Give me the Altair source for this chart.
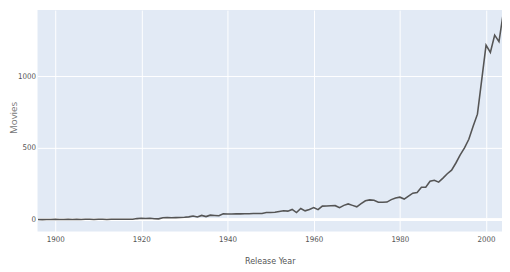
import altair as alt
import pandas as pd

years = list(range(1896, 2005))
movies = [
    2, 1, 2, 2, 3,            # 1896-1900
    2, 2, 3, 2, 3,            # 1901-1905
    2, 3, 3, 2, 3,            # 1906-1910
    3, 2, 3, 3, 4,            # 1911-1915
    3, 4, 4,                  # 1916-1918
    8, 10, 9, 10, 7, 6,       # 1919-1924
    14, 15, 14, 15, 16, 17,   # 1925-1930
    20, 26, 19, 30, 22, 32, 30, 28, 42, 40,   # 1931-1940
    40, 41, 41, 42, 42, 43, 44, 44, 50, 50,   # 1941-1950
    52, 58, 62, 60, 72, 50, 78, 62, 72, 85,   # 1951-1960
    70, 95, 96, 97, 98, 84, 100, 110, 100, 90,  # 1961-1970
    112, 132, 138, 136, 122, 122, 123, 140, 152, 157,  # 1971-1980
    144, 165, 185, 190, 226, 226, 268, 275, 262, 290,  # 1981-1990
    320, 345, 395, 452, 500, 560, 650, 735, 975, 1215,  # 1991-2000
    1165, 1285, 1240, 1440,   # 2001-2004
]

df = pd.DataFrame({"year": years, "movies": movies})

x_ticks = [1900, 1920, 1940, 1960, 1980, 2000]
y_ticks = [0, 500, 1000]

font = "Liberation Sans Narrow, DejaVu Sans Condensed, Roboto, sans-serif"

zero = alt.Chart(df).mark_rule(color="white", strokeWidth=2).encode(
    y=alt.datum(0)
)

line = alt.Chart(df).mark_line(color="#555555", strokeWidth=1.6, clip=True).encode(
    x=alt.X(
        "year:Q",
        scale=alt.Scale(domain=[1895.9, 2003.7], nice=False, zero=False),
        axis=alt.Axis(
            values=x_ticks,
            format="d",
            title="Release Year",
            grid=True,
            gridColor="white",
            gridWidth=1,
            domain=False,
            ticks=False,
            labelPadding=4,
            titlePadding=14,
        ),
    ),
    y=alt.Y(
        "movies:Q",
        scale=alt.Scale(domain=[-82, 1459], nice=False, zero=False),
        axis=alt.Axis(
            values=y_ticks,
            format="d",
            title="Movies",
            grid=True,
            gridColor="white",
            gridWidth=1,
            domain=False,
            ticks=False,
            labelPadding=2,
            titleX=-19,
            titleY=109,
            titleAlign="center",
        ),
    ),
)

chart = (
    alt.layer(zero, line)
    .properties(
        width=472,
        height=225,
        autosize=alt.AutoSizeParams(type="none"),
        padding={"left": 30, "top": 0, "right": 0, "bottom": 40},
    )
    .configure_view(fill="#E2EAF5", stroke=None)
    .configure_axis(
        labelFont=font,
        titleFont=font,
        labelFontSize=8,
        titleFontSize=9,
        labelColor="#555555",
        titleColor="#555555",
        titleFontWeight="normal",
    )
    .configure_axisY(titleFont="Open Sans", titleFontSize=10, titleColor="#777777")
)

chart.save("out.html", embed_options={"renderer": "svg", "actions": False})
